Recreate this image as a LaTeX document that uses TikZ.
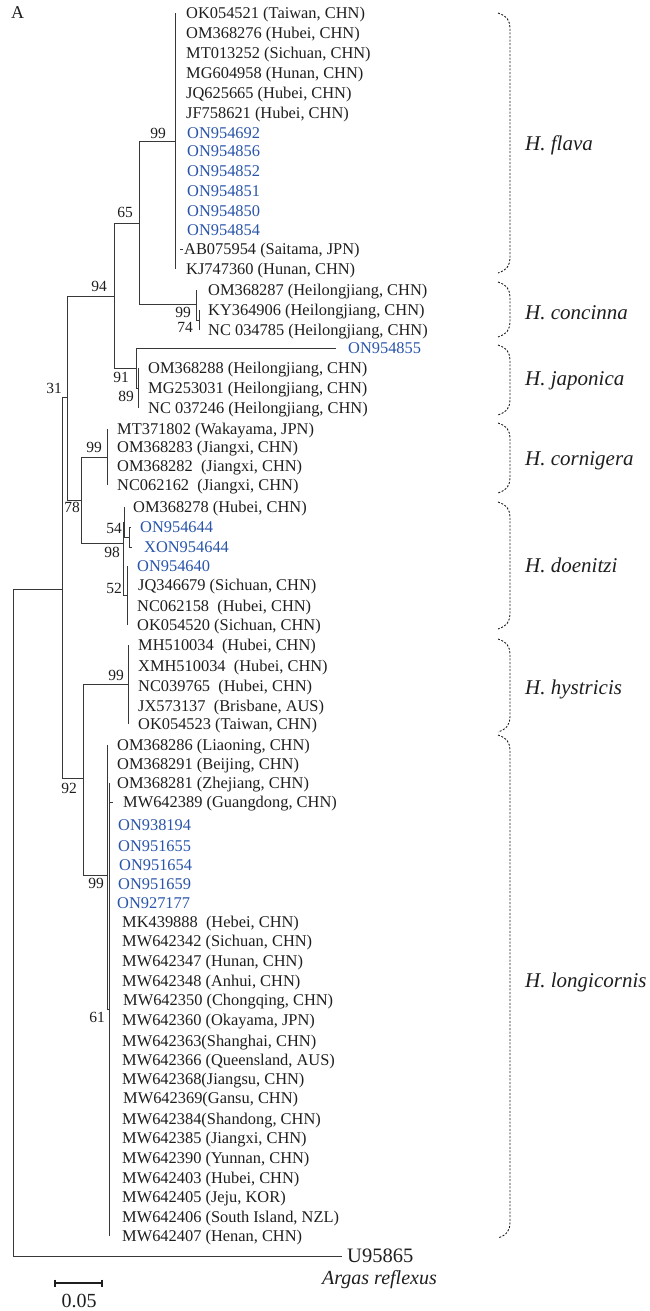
\documentclass[tikz,border=0pt]{standalone}
\usepackage{fontspec}
\setmainfont{Liberation Serif}
\definecolor{ink}{HTML}{1E1E1E}
\definecolor{blueid}{RGB}{40,84,170}
\definecolor{treeline}{HTML}{383838}
\tikzset{
  br/.style={draw=treeline, line width=0.85pt},
  lab/.style={anchor=base west, inner sep=0pt, text=ink, font=\fontsize{16.4}{19}\selectfont},
  blab/.style={lab, text=blueid},
  boot/.style={inner sep=0pt, text=ink, font=\fontsize{15.5}{18}\selectfont},
  sp/.style={anchor=base west, inner sep=0pt, text=ink, font=\fontsize{21}{24}\selectfont\itshape},
  clbr/.style={draw=ink, line width=0.9pt, dash pattern=on 2pt off 1.6pt},
}
% #1 parent, #2 tip x, #3 y, #4 text x, #5 style, #6 text
\newcommand\tleaf[6]{%
  \coordinate (L#3) at (#2,#3);
  \node[#5] (T#3) at (#4,#3+5.5) {#6};
  \draw[br] (#1) |- (L#3);
}
% #1 top, #2 bottom
\newcommand\spbrace[2]{%
  \draw[clbr] (498,#1) .. controls (507,#1+3) and (510,#1+8) .. (510,#1+15)
    -- (510,#2-15) .. controls (510,#2-8) and (507,#2-3) .. (498,#2);
}
\begin{document}
\begin{tikzpicture}[x=1pt,y=-1pt]
\useasboundingbox (0,0) rectangle (649,1311);

\node[lab, font=\fontsize{18}{20}\selectfont] (panel) at (11,19) {A};

% ---- backbone ----
\coordinate (root) at (13,922);
\coordinate (n1) at (62,589);
\coordinate (og) at (342,1256);
\draw[br] (root) |- (n1);
\draw[br] (root) |- (og);
\coordinate (n31) at (67,397);
\coordinate (n92) at (83,778);
\draw[br] (n1) |- (n31);
\draw[br] (n1) |- (n92);
\coordinate (n94) at (114,296);
\coordinate (n78) at (81,500);
\draw[br] (n31) |- (n94);
\draw[br] (n31) |- (n78);
\coordinate (n65) at (139,223);
\coordinate (njap) at (136,368);
\draw[br] (n94) |- (n65);
\draw[br] (n94) |- (njap);
\coordinate (nfla) at (175,141);
\coordinate (ncon) at (196,304);
\draw[br] (n65) |- (nfla);
\draw[br] (n65) |- (ncon);
\coordinate (ncon2) at (199,320);
\draw[br] (ncon) |- (ncon2);
\coordinate (njap2) at (138,388);
\draw[br] (njap) |- (njap2);
\coordinate (ncor) at (107,457);
\coordinate (ndoe) at (123,543);
\draw[br] (n78) |- (ncor);
\draw[br] (n78) |- (ndoe);
\coordinate (nd54) at (124,522);
\coordinate (nd52) at (127,595);
\draw[br] (ndoe) |- (nd54);
\draw[br] (ndoe) |- (nd52);
\coordinate (npair) at (129,537);
\draw[br] (nd54) |- (npair);
\coordinate (nhys) at (128,684);
\coordinate (nlon) at (107,875);
\draw[br] (n92) |- (nhys);
\draw[br] (n92) |- (nlon);
\coordinate (n61) at (109,1009);
\draw[br] (nlon) |- (n61);

% ---- H. flava ----
\tleaf{nfla}{175}{13}{186}{lab}{OK054521 (Taiwan, CHN)}
\tleaf{nfla}{175}{33}{186}{lab}{OM368276 (Hubei, CHN)}
\tleaf{nfla}{175}{53}{186}{lab}{MT013252 (Sichuan, CHN)}
\tleaf{nfla}{175}{73}{186}{lab}{MG604958 (Hunan, CHN)}
\tleaf{nfla}{175}{93}{186}{lab}{JQ625665 (Hubei, CHN)}
\tleaf{nfla}{175}{113}{186}{lab}{JF758621 (Hubei, CHN)}
\tleaf{nfla}{175}{133}{187}{blab}{ON954692}
\tleaf{nfla}{175}{151}{187}{blab}{ON954856}
\tleaf{nfla}{175}{171}{187}{blab}{ON954852}
\tleaf{nfla}{175}{191}{187}{blab}{ON954851}
\tleaf{nfla}{175}{211}{187}{blab}{ON954850}
\tleaf{nfla}{175}{230}{187}{blab}{ON954854}
\tleaf{nfla}{175}{249}{184}{lab}{AB075954 (Saitama, JPN)}
\tleaf{nfla}{175}{269}{186}{lab}{KJ747360 (Hunan, CHN)}
\coordinate (tk1) at (180,249);
\coordinate (tk2) at (182.5,249);
\draw[br] (tk1) -- (tk2);

% ---- H. concinna ----
\tleaf{ncon}{196}{290}{208}{lab}{OM368287 (Heilongjiang, CHN)}
\tleaf{ncon2}{199}{310}{208}{lab}{KY364906 (Heilongjiang, CHN)}
\tleaf{ncon2}{199}{330}{208}{lab}{NC 034785 (Heilongjiang, CHN)}

% ---- H. japonica ----
\tleaf{njap}{336}{348}{348}{blab}{ON954855}
\tleaf{njap2}{138}{368}{148}{lab}{OM368288 (Heilongjiang, CHN)}
\tleaf{njap2}{138}{388}{148}{lab}{MG253031 (Heilongjiang, CHN)}
\tleaf{njap2}{138}{408}{148}{lab}{NC 037246 (Heilongjiang, CHN)}

% ---- H. cornigera ----
\tleaf{ncor}{107}{429}{117}{lab}{MT371802 (Wakayama, JPN)}
\tleaf{ncor}{107}{447}{117}{lab}{OM368283 (Jiangxi, CHN)}
\tleaf{ncor}{107}{466}{117}{lab}{OM368282 \ (Jiangxi, CHN)}
\tleaf{ncor}{107}{485}{117}{lab}{NC062162 \ (Jiangxi, CHN)}

% ---- H. doenitzi ----
\tleaf{nd54}{124}{507}{133}{lab}{OM368278 (Hubei, CHN)}
\tleaf{npair}{131}{527}{140}{blab}{ON954644}
\tleaf{npair}{132}{547}{144}{blab}{XON954644}
\tleaf{nd52}{127}{566}{137}{blab}{ON954640}
\tleaf{nd52}{127}{585}{138}{lab}{JQ346679 (Sichuan, CHN)}
\tleaf{nd52}{127}{606}{137}{lab}{NC062158 \ (Hubei, CHN)}
\tleaf{nd52}{127}{625}{137}{lab}{OK054520 (Sichuan, CHN)}

% ---- H. hystricis ----
\tleaf{nhys}{128}{645}{138}{lab}{MH510034 \ (Hubei, CHN)}
\tleaf{nhys}{128}{666}{138}{lab}{XMH510034 \ (Hubei, CHN)}
\tleaf{nhys}{128}{686}{138}{lab}{NC039765 \ (Hubei, CHN)}
\tleaf{nhys}{128}{706}{138}{lab}{JX573137 \ (Brisbane, AUS)}
\tleaf{nhys}{128}{724}{138}{lab}{OK054523 (Taiwan, CHN)}

% ---- H. longicornis ----
\tleaf{nlon}{107}{745}{117}{lab}{OM368286 (Liaoning, CHN)}
\tleaf{nlon}{107}{764}{117}{lab}{OM368291 (Beijing, CHN)}
\tleaf{n61}{109}{783}{117}{lab}{OM368281 (Zhejiang, CHN)}
\tleaf{n61}{113}{802}{123}{lab}{MW642389 (Guangdong, CHN)}
\tleaf{n61}{109}{825}{118}{blab}{ON938194}
\tleaf{n61}{109}{846}{118}{blab}{ON951655}
\tleaf{n61}{109}{865}{119}{blab}{ON951654}
\tleaf{n61}{109}{884}{118}{blab}{ON951659}
\tleaf{n61}{109}{903}{117}{blab}{ON927177}
\tleaf{n61}{109}{922}{122}{lab}{MK439888 \ (Hebei, CHN)}
\tleaf{n61}{109}{941}{122}{lab}{MW642342 (Sichuan, CHN)}
\tleaf{n61}{109}{961}{122}{lab}{MW642347 (Hunan, CHN)}
\tleaf{n61}{109}{981}{122}{lab}{MW642348 (Anhui, CHN)}
\tleaf{n61}{109}{1000}{123}{lab}{MW642350 (Chongqing, CHN)}
\tleaf{n61}{109}{1020}{122}{lab}{MW642360 (Okayama, JPN)}
\tleaf{n61}{109}{1041}{122}{lab}{MW642363(Shanghai, CHN)}
\tleaf{n61}{109}{1060}{122}{lab}{MW642366 (Queensland, AUS)}
\tleaf{n61}{109}{1079}{122}{lab}{MW642368(Jiangsu, CHN)}
\tleaf{n61}{109}{1098}{123}{lab}{MW642369(Gansu, CHN)}
\tleaf{n61}{109}{1119}{122}{lab}{MW642384(Shandong, CHN)}
\tleaf{n61}{109}{1138}{122}{lab}{MW642385 (Jiangxi, CHN)}
\tleaf{n61}{109}{1158}{122}{lab}{MW642390 (Yunnan, CHN)}
\tleaf{n61}{109}{1178}{122}{lab}{MW642403 (Hubei, CHN)}
\tleaf{n61}{109}{1197}{122}{lab}{MW642405 (Jeju, KOR)}
\tleaf{n61}{109}{1217}{122}{lab}{MW642406 (South Island, NZL)}
\tleaf{n61}{109}{1236}{122}{lab}{MW642407 (Henan, CHN)}

% ---- outgroup ----
\node[lab, font=\fontsize{20.5}{24}\selectfont] (Tog) at (347,1262) {U95865};
\node[lab, font=\fontsize{20}{24}\selectfont\itshape] (Targ) at (322,1284) {Argas reflexus};

% ---- bootstrap values ----
\node[boot] (b1) at (158,133) {99};
\node[boot] (b2) at (125,212) {65};
\node[boot] (b3) at (99,286) {94};
\node[boot] (b4) at (54,388) {31};
\node[boot] (b5) at (183,312) {99};
\node[boot] (b6) at (185,327) {74};
\node[boot] (b7) at (121,377) {91};
\node[boot] (b8) at (126,396) {89};
\node[boot] (b9) at (94,447) {99};
\node[boot] (b10) at (72,507) {78};
\node[boot] (b11) at (114,528) {54};
\node[boot] (b12) at (112,552) {98};
\node[boot] (b13) at (114,588) {52};
\node[boot] (b14) at (116,675) {99};
\node[boot] (b15) at (69,788) {92};
\node[boot] (b16) at (96,883) {99};
\node[boot] (b17) at (97,1017) {61};

% ---- species brackets ----
\spbrace{13}{273}
\spbrace{282}{337}
\spbrace{345}{415}
\spbrace{423}{493}
\spbrace{502}{629}
\spbrace{639}{732}
\spbrace{735}{1238}
\node[sp] (s1) at (525,150) {H. flava};
\node[sp] (s2) at (525,319) {H. concinna};
\node[sp] (s3) at (525,385) {H. japonica};
\node[sp] (s4) at (525,465) {H. cornigera};
\node[sp] (s5) at (525,572) {H. doenitzi};
\node[sp] (s6) at (525,694) {H. hystricis};
\node[sp] (s7) at (525,987) {H. longicornis};

% ---- scale bar ----
\coordinate (sb1) at (55,1283);
\coordinate (sb2) at (102,1283);
\draw[draw=ink, line width=1.2pt] (sb1) -- (sb2);
\draw[draw=ink, line width=1.2pt] ([yshift=3.5pt]sb1) -- ([yshift=-3.5pt]sb1);
\draw[draw=ink, line width=1.2pt] ([yshift=3.5pt]sb2) -- ([yshift=-3.5pt]sb2);
\node[boot, anchor=base, font=\fontsize{20}{24}\selectfont] (sbl) at (79,1307) {0.05};
\end{tikzpicture}
\end{document}
